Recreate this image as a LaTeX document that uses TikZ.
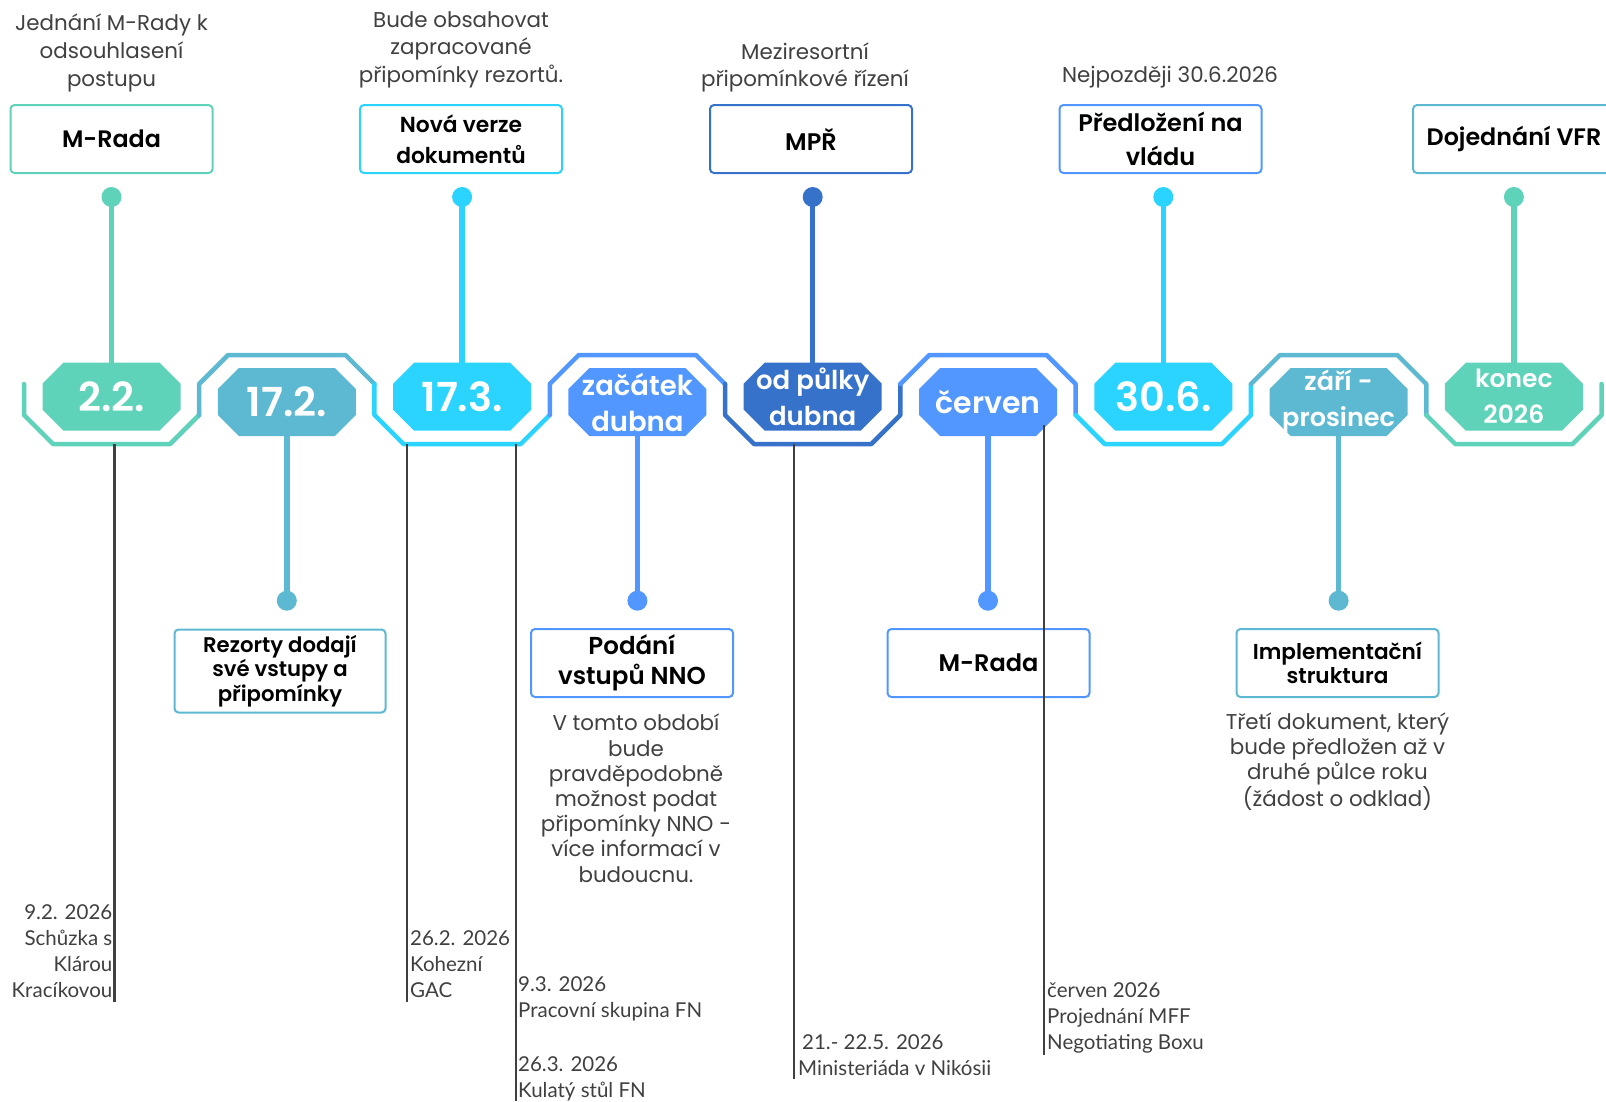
\documentclass[tikz,border=0pt]{standalone}
\usepackage{fontspec}
\setmainfont{Poppins}[BoldFont={Poppins SemiBold}]
\newfontfamily\annfont{Lato}
\definecolor{cGreen}{HTML}{5ED3B9}
\definecolor{cTeal}{HTML}{5DB9D2}
\definecolor{cCyan}{HTML}{2AD4FF}
\definecolor{cBlue}{HTML}{5297FF}
\definecolor{cDark}{HTML}{3772CA}
\definecolor{txtgray}{HTML}{404040}
\definecolor{annline}{HTML}{404040}
\newcommand\octag[6]{%
  \fill[#4] (#2-69,#3-13) -- (#2-48,#3-34) -- (#2+48,#3-34) -- (#2+69,#3-13)
     -- (#2+69,#3+13) -- (#2+48,#3+34) -- (#2-48,#3+34) -- (#2-69,#3+13) -- cycle;
  \node[octnode,#5] (#1) at (#2,#3) {#6};
}
\tikzset{
 octnode/.style={minimum width=138pt, minimum height=68pt, inner sep=0pt, text=white, align=center},
 bigdate/.style={font=\fontsize{40}{44}\selectfont\bfseries},
 twoline/.style={font=\fontsize{#1}{36}\selectfont\bfseries},
 track/.style={line width=4.5pt, line join=round, line cap=round},
 stem/.style={line width=5.5pt},
 dot/.style={circle, fill, minimum size=20pt, inner sep=0pt},
 titlebox/.style={draw, line width=2pt, rounded corners=4pt, fill=white, minimum width=202pt, minimum height=68pt, inner sep=0pt, align=center, text=black},
 desc/.style={text=txtgray, align=center, inner sep=0pt, font=\fontsize{21.4}{26.5}\selectfont},
 ann/.style={inner sep=0pt, font=\annfont\fontsize{20.5}{26}\selectfont, text=txtgray},
 annl/.style={draw=annline, line width=2.5pt},
}
\begin{document}
\begin{tikzpicture}[x=1pt,y=-1pt]
\useasboundingbox (0,0) rectangle (1606,1101);
\clip (0,0) rectangle (1606,1101);
\fill[white] (0,0) rectangle (1606,1101);

% track brackets
\draw[track,cGreen] (24,384) -- (24,415) -- (53,444) -- (170.15,444) -- (199.15,415);
\draw[track,cTeal] (199.15,415) -- (199.15,384) -- (228.15,355) -- (345.45,355) -- (374.45,384);
\draw[track,cCyan] (374.45,384) -- (374.45,415) -- (403.45,444) -- (520.75,444) -- (549.75,415);
\draw[track,cBlue] (549.75,415) -- (549.75,384) -- (578.75,355) -- (696.05,355) -- (725.05,384);
\draw[track,cDark] (725.05,384) -- (725.05,415) -- (754.05,444) -- (871.35,444) -- (900.35,415) -- (900.35,384);
\draw[track,cBlue] (900.35,384) -- (929.35,355) -- (1046.65,355) -- (1075.65,384) -- (1075.65,415);
\draw[track,cCyan] (1075.65,415) -- (1104.65,444) -- (1221.95,444) -- (1250.95,415) -- (1250.95,384);
\draw[track,cTeal] (1250.95,384) -- (1279.95,355) -- (1397.25,355) -- (1426.25,384) -- (1426.25,415);
\draw[track,cGreen] (1426.25,415) -- (1455.25,444) -- (1572.55,444) -- (1601.55,415) -- (1601.55,384);

% octagons
\octag{o1}{111.5}{396.7}{cGreen}{bigdate}{2.2.}
\octag{o2}{286.8}{402}{cTeal}{bigdate}{17.2.}
\octag{o3}{462.1}{396.7}{cCyan}{bigdate}{17.3.}
\octag{o4}{637.4}{402}{cBlue}{twoline=27.5}{začátek\\dubna}
\octag{o5}{812.7}{396.7}{cDark}{twoline=26}{od půlky\\dubna}
\octag{o6}{988}{402}{cBlue}{font=\fontsize{30}{36}\selectfont\bfseries}{červen}
\octag{o7}{1163.3}{396.7}{cCyan}{bigdate}{30.6.}
\octag{o8}{1338.6}{402}{cTeal}{twoline=25.5}{září -\\prosinec}
\octag{o9}{1513.9}{396.7}{cGreen}{twoline=25}{konec\\2026}

% top dots and stems
\node[dot,cGreen] (d1) at (111.5,197) {};
\node[dot,cCyan] (d3) at (462.1,197) {};
\node[dot,cDark] (d5) at (812.7,197) {};
\node[dot,cCyan] (d7) at (1163.3,197) {};
\node[dot,cGreen] (d9) at (1513.9,197) {};
\draw[stem,cGreen] (d1.center) -- (o1.north);
\draw[stem,cCyan] (d3.center) -- (o3.north);
\draw[stem,cDark] (d5.center) -- (o5.north);
\draw[stem,cCyan] (d7.center) -- (o7.north);
\draw[stem,cGreen] (d9.center) -- (o9.north);

% bottom dots and stems
\node[dot,cTeal] (d2) at (286.8,600.7) {};
\node[dot,cBlue] (d4) at (637.4,600.7) {};
\node[dot,cBlue] (d6) at (988,600.7) {};
\node[dot,cTeal] (d8) at (1338.6,600.7) {};
\draw[stem,cTeal] (o2.south) -- (d2.center);
\draw[stem,cBlue] (o4.south) -- (d4.center);
\draw[stem,cBlue] (o6.south) -- (d6.center);
\draw[stem,cTeal] (o8.south) -- (d8.center);

% top boxes
\node[titlebox,draw=cGreen,font=\bfseries\fontsize{23.8}{30}\selectfont] (b1) at (111.5,139) {M-Rada};
\node[titlebox,draw=cCyan,font=\bfseries\fontsize{21.8}{31}\selectfont] (b3) at (461,139) {Nová verze\\dokumentů};
\node[titlebox,draw=cDark,font=\bfseries\fontsize{24}{30}\selectfont] (b5) at (811,139) {MPŘ};
\node[titlebox,draw=cBlue,font=\bfseries\fontsize{24}{34}\selectfont] (b7) at (1160.5,139) {Předložení na\\vládu};
\node[titlebox,draw=cTeal,font=\bfseries\fontsize{23.8}{30}\selectfont] (b9) at (1514,139) {Dojednání VFR};

% bottom boxes
\node[titlebox,draw=cTeal,minimum width=211pt,minimum height=83pt,font=\bfseries\fontsize{21.2}{24.5}\selectfont] (b2) at (280,671) {Rezorty dodají\\své vstupy a\\připomínky};
\node[titlebox,draw=cBlue,font=\bfseries\fontsize{24.5}{30}\selectfont] (b4) at (632,663) {Podání\\vstupů NNO};
\node[titlebox,draw=cBlue,font=\bfseries\fontsize{24}{30}\selectfont] (b6) at (988.5,663) {M-Rada};
\node[titlebox,draw=cTeal,font=\bfseries\fontsize{21.6}{23.5}\selectfont] (b8) at (1337.5,663) {Implementační\\struktura};

% descriptions (anchor base = baseline of last line)
\node[desc,anchor=base,font=\fontsize{21.4}{28}\selectfont] (t1) at (111.5,86) {Jednání M-Rady k\\odsouhlasení\\postupu};
\node[desc,anchor=base,font=\fontsize{21.4}{27.6}\selectfont] (t3) at (461,82.5) {Bude obsahovat\\zapracované\\připomínky rezortů.};
\node[desc,anchor=base] (t5) at (805,86) {Meziresortní\\připomínkové řízení};
\node[desc,anchor=base] (t7) at (1170,82) {Nejpozději 30.6.2026};
\node[desc,anchor=base,font=\fontsize{21.4}{25.2}\selectfont] (t4) at (636,882) {V tomto období\\bude\\pravděpodobně\\možnost podat\\připomínky NNO -\\více informací v\\budoucnu.};
\node[desc,anchor=base,font=\fontsize{21.4}{25}\selectfont] (t8) at (1337.5,806) {Třetí dokument, který\\bude předložen až v\\druhé půlce roku\\(žádost o odklad)};

% annotation lines
\coordinate (l1s) at (114.5,444); \coordinate (l1e) at (114.5,1002);
\coordinate (l2s) at (407,444);   \coordinate (l2e) at (407,1002);
\coordinate (l3s) at (516,444);   \coordinate (l3e) at (516,1101);
\coordinate (l4s) at (794,444);   \coordinate (l4e) at (794,1079);
\coordinate (l5s) at (1044,425);  \coordinate (l5e) at (1044,1055);
\draw[annl] (l1s) -- (l1e);
\draw[annl] (l2s) -- (l2e);
\draw[annl] (l3s) -- (l3e);
\draw[annl] (l4s) -- (l4e);
\draw[annl] (l5s) -- (l5e);

% annotations (anchor base = baseline of last line)
\node[ann,anchor=base east,align=right] (a1) at (112.5,997) {9.2. 2026\\Schůzka s\\Klárou\\Kracíkovou};
\node[ann,anchor=base west,align=left] (a2) at (410,997) {26.2. 2026\\Kohezní\\GAC};
\node[ann,anchor=base west,align=left] (a3) at (518,1017) {9.3. 2026\\Pracovní skupina FN};
\node[ann,anchor=base west,align=left] (a4) at (518,1097) {26.3. 2026\\Kulatý stůl FN};
\node[ann,anchor=base west,align=left] (a5) at (798,1075) {\hspace*{4pt}21.- 22.5. 2026\\Ministeriáda v Nikósii};
\node[ann,anchor=base west,align=left] (a6) at (1047,1049) {červen 2026\\Projednání MFF\\Negotiating Boxu};
\end{tikzpicture}
\end{document}
